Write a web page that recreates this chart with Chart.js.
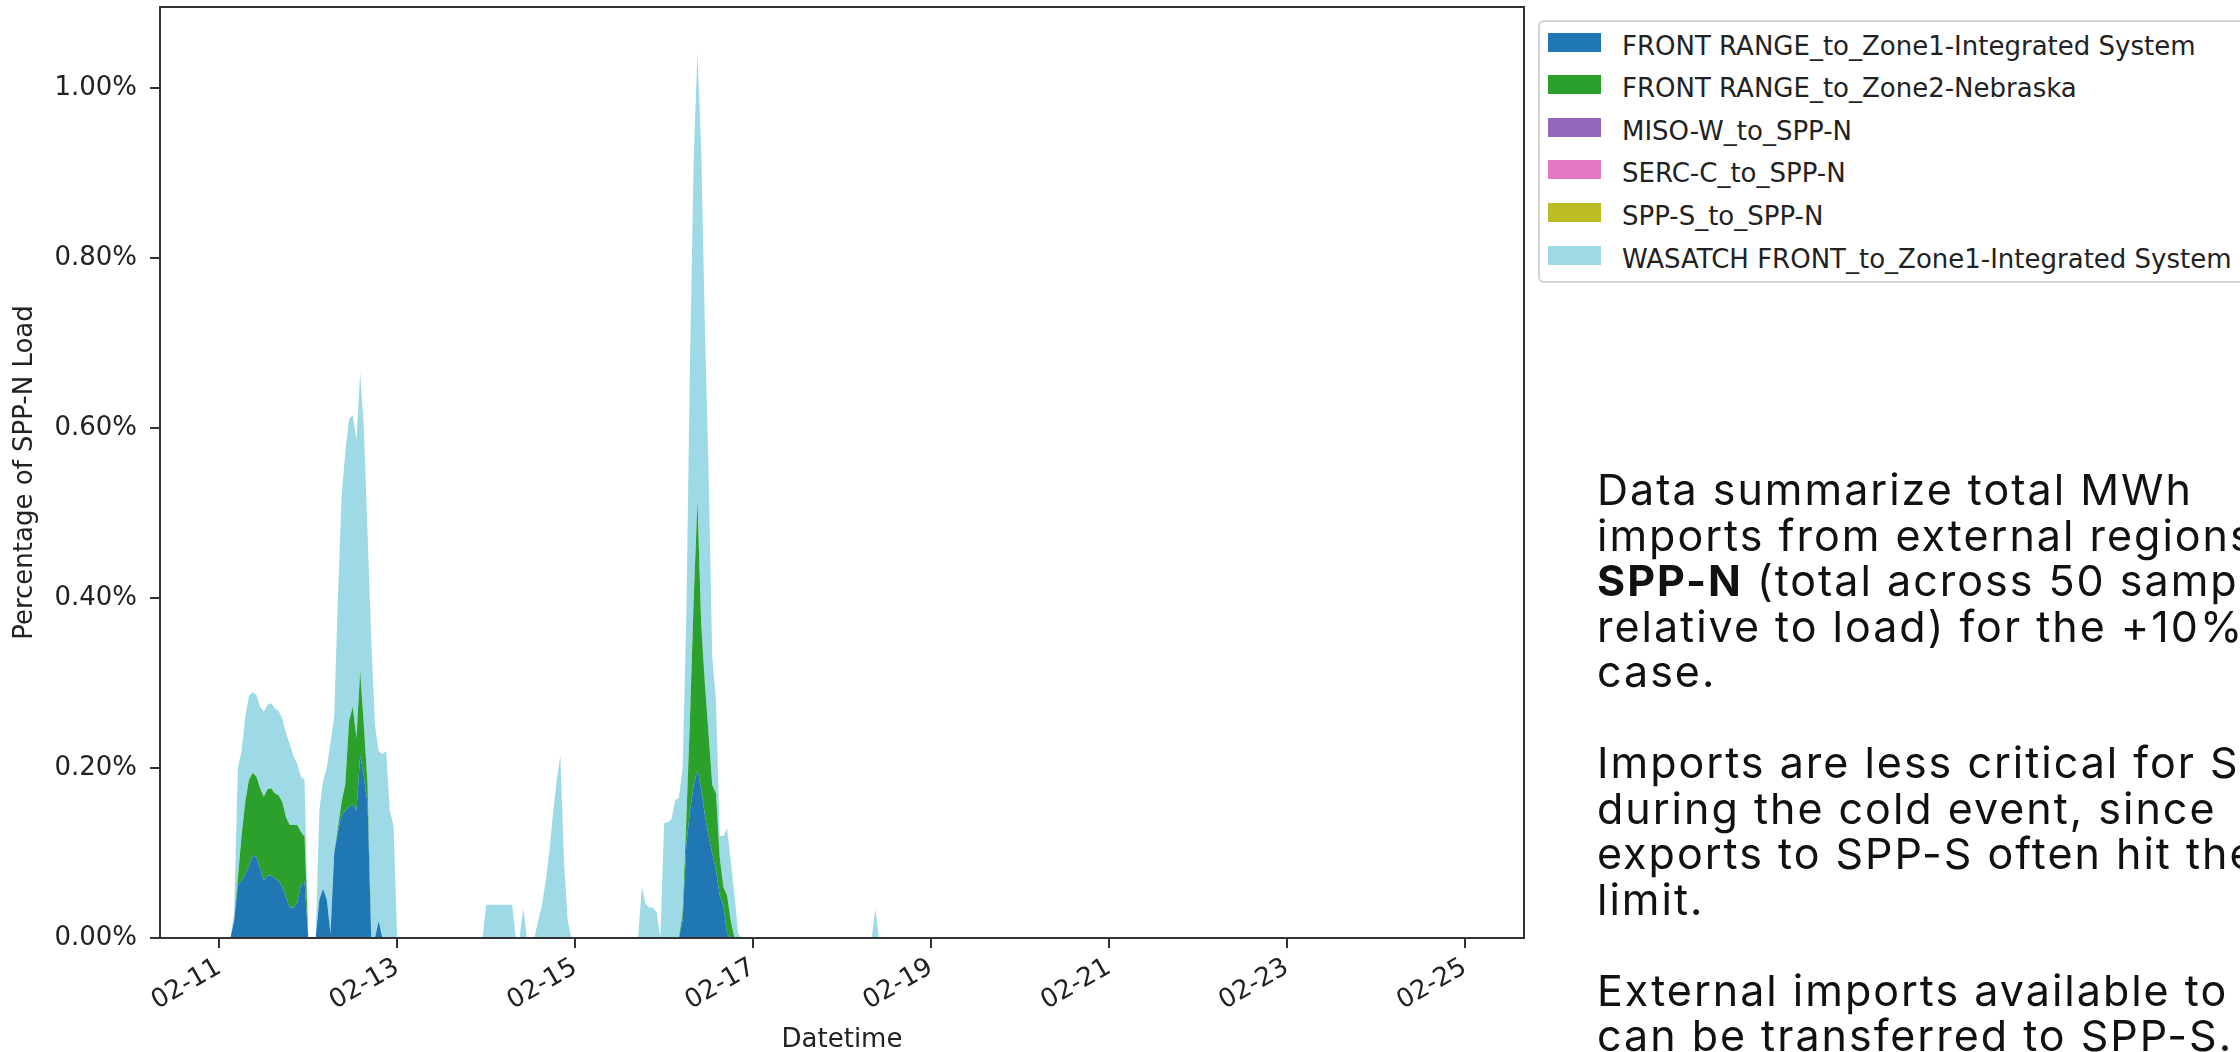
<!DOCTYPE html>
<html>
<head>
<meta charset="utf-8">
<script src="https://cdn.jsdelivr.net/npm/chart.js@4.4.1/dist/chart.umd.min.js"></script>
<style>
  html, body { margin: 0; padding: 0; background: #ffffff; overflow: hidden; }
  #wrap { position: relative; width: 2240px; height: 1052px; overflow: hidden; background: #fff; }
  #chartBox { position: absolute; left: 0; top: 0; width: 2240px; height: 1052px; }
  #legend { position: absolute; left: 1538px; top: 20px; width: 760px; height: 263px;
            border: 2px solid #d4d4d4; border-radius: 6px; box-sizing: border-box; background: #fff; }
  .row { position: absolute; left: 0; width: 740px; height: 42px; }
  .sw { position: absolute; left: 8px; top: 10.7px; width: 53px; height: 19px; }
  .lt { position: absolute; left: 82px; top: 8.5px; line-height: 30px; white-space: nowrap;
        font-family: 'DejaVu Sans', sans-serif; font-size: 26px; color: #222; }
  #note { position: absolute; left: 1597px; top: 467px; font-family: Inter, 'Open Sans', sans-serif;
          font-size: 43px; line-height: 45.5px; letter-spacing: 2px; color: #111; white-space: nowrap; }
  #note b { font-weight: 700; }
</style>
</head>
<body>
<div id="wrap">
  <div id="chartBox"><canvas id="c"></canvas></div>
  <div id="legend"></div>
  <div id="note">Data summarize total MWh<br>imports from external regions<br><b>SPP-N</b> (total across 50 samples<br>relative to load) for the +10%<br>case.<br><br>Imports are less critical for SPP-N<br>during the cold event, since<br>exports to SPP-S often hit the<br>limit.<br><br>External imports available to<br>can be transferred to SPP-S.</div>
</div>
<script>
// ---------- DATA (hourly samples) ----------
const times = [
  "02-10 08:00",
  "02-11 03:00","02-11 04:00","02-11 05:00","02-11 06:00","02-11 07:00","02-11 08:00","02-11 09:00","02-11 10:00",
  "02-11 11:00","02-11 12:00","02-11 13:00","02-11 14:00","02-11 15:00","02-11 16:00","02-11 17:00","02-11 18:00",
  "02-11 19:00","02-11 20:00","02-11 21:00","02-11 22:00","02-11 23:00","02-12 00:00",
  "02-12 02:00","02-12 03:00","02-12 04:00","02-12 05:00","02-12 06:00","02-12 07:00","02-12 08:00","02-12 09:00",
  "02-12 10:00","02-12 11:00","02-12 12:00","02-12 13:00","02-12 14:00","02-12 15:00","02-12 16:00","02-12 17:00",
  "02-12 18:00","02-12 19:00","02-12 20:00","02-12 21:00","02-12 22:00","02-12 23:00","02-13 00:00",
  "02-13 23:00","02-14 00:00","02-14 01:00","02-14 02:00","02-14 03:00","02-14 04:00","02-14 05:00","02-14 06:00",
  "02-14 07:00","02-14 08:00","02-14 09:00","02-14 10:00","02-14 11:00","02-14 12:00","02-14 13:00","02-14 14:00",
  "02-14 15:00","02-14 16:00","02-14 17:00","02-14 18:00","02-14 19:00","02-14 20:00","02-14 21:00","02-14 22:00","02-14 23:00",
  "02-15 17:00","02-15 18:00","02-15 19:00","02-15 20:00","02-15 21:00","02-15 22:00","02-15 23:00",
  "02-16 00:00","02-16 01:00","02-16 02:00","02-16 03:00","02-16 04:00","02-16 05:00","02-16 06:00","02-16 07:00",
  "02-16 08:00","02-16 09:00","02-16 10:00","02-16 11:00","02-16 12:00","02-16 13:00","02-16 14:00","02-16 15:00",
  "02-16 16:00","02-16 17:00","02-16 18:00","02-16 19:00","02-16 20:00","02-16 21:00",
  "02-18 08:00","02-18 09:00","02-18 10:00",
  "02-25 16:00"
];

// percent of SPP-N load, per series (stacked in this order)
const frontRangeZone1 = [
  0,
  0,0.02,0.062,0.067,0.075,0.085,0.097,0.095,0.082,0.068,0.073,0.074,0.07,0.067,0.06,0.048,0.036,0.036,0.041,0.062,0.066,0,
  0,0.045,0.058,0.045,0.005,0.1,0.125,0.145,0.15,0.154,0.157,0.15,0.215,0.19,0.157,0,0,0.02,0,0,0,0,0,
  0,0,0,0,0,0,0,0,0,0,0,0,0,0,0,0,0,0,0,0,0,0,0,0,0,
  0,0,0,0,0,0,0,0,0,0,0,0,0.02,0.11,0.15,0.18,0.198,0.175,0.145,0.12,0.1,0.08,0.05,0.038,0.005,0,0,0,0,
  0,0,0,
  0
];
const frontRangeZone2 = [
  0,
  0,0,0.008,0.053,0.085,0.101,0.097,0.095,0.094,0.098,0.102,0.102,0.1,0.101,0.1,0.094,0.097,0.097,0.092,0.063,0.053,0,
  0,0,0,0,0,0,0.005,0.015,0.031,0.101,0.115,0.085,0.1,0.06,0.024,0,0,0,0,0,0,0,0,
  0,0,0,0,0,0,0,0,0,0,0,0,0,0,0,0,0,0,0,0,0,0,0,0,0,
  0,0,0,0,0,0,0,0,0,0,0,0,0.01,0.03,0.11,0.22,0.317,0.195,0.155,0.12,0.08,0.09,0.045,0.022,0.045,0.02,0,0,0,
  0,0,0,
  0
];
const misoW = [
  0,
  0,0,0,0,0,0,0,0,0,0,0,0,0,0,0,0,0,0,0,0,0,0,
  0,0,0,0,0,0,0,0,0,0,0,0,0,0,0,0,0,0,0,0,0,0,0,
  0,0,0,0,0,0,0,0,0,0,0,0,0,0,0,0,0,0,0,0,0,0,0,0,0,
  0,0,0,0,0,0,0,0,0,0,0,0,0,0,0,0,0,0,0,0,0,0,0,0,0,0,0,0,0,
  0,0,0,
  0
];
const sercC = [
  0,
  0,0,0,0,0,0,0,0,0,0,0,0,0,0,0,0,0,0,0,0,0,0,
  0,0,0,0,0,0,0,0,0,0,0,0,0,0,0,0,0,0,0,0,0,0,0,
  0,0,0,0,0,0,0,0,0,0,0,0,0,0,0,0,0,0,0,0,0,0,0,0,0,
  0,0,0,0,0,0,0,0,0,0,0,0,0,0,0,0,0,0,0,0,0,0,0,0,0,0,0,0,0,
  0,0,0,
  0
];
const sppS = [
  0,
  0,0,0,0,0,0,0,0,0,0,0,0,0,0,0,0,0,0,0,0,0,0,
  0,0,0,0,0,0,0,0,0,0,0,0,0,0,0,0,0,0,0,0,0,0,0,
  0,0,0,0,0,0,0,0,0,0,0,0,0,0,0,0,0,0,0,0,0,0,0,0,0,
  0,0,0,0,0,0,0,0,0,0,0,0,0,0,0,0,0,0,0,0,0,0,0,0,0,0,0,0,0,
  0,0,0,
  0
];
const wasatchZone1 = [
  0,
  0,0.01,0.13,0.1,0.1,0.099,0.095,0.096,0.096,0.1,0.099,0.1,0.1,0.099,0.098,0.099,0.095,0.081,0.072,0.065,0.067,0,
  0,0.105,0.127,0.155,0.225,0.16,0.27,0.36,0.391,0.355,0.343,0.35,0.35,0.35,0.295,0.35,0.25,0.2,0.216,0.22,0.15,0.132,0,
  0,0.039,0.039,0.039,0.039,0.039,0.039,0.039,0.039,0,0,0.035,0,0,0,0.02,0.038,0.065,0.1,0.145,0.185,0.215,0.09,0.02,0,
  0,0.06,0.04,0.036,0.036,0.03,0,0.135,0.136,0.14,0.162,0.165,0.17,0.24,0.42,0.52,0.526,0.56,0.42,0.31,0.15,0.11,0.025,0.06,0.079,0.07,0.05,0.005,0,
  0,0.034,0,
  0
];

const seriesLabels = [
  "FRONT RANGE_to_Zone1-Integrated System",
  "FRONT RANGE_to_Zone2-Nebraska",
  "MISO-W_to_SPP-N",
  "SERC-C_to_SPP-N",
  "SPP-S_to_SPP-N",
  "WASATCH FRONT_to_Zone1-Integrated System"
];
const seriesValues = [frontRangeZone1, frontRangeZone2, misoW, sercC, sppS, wasatchZone1];
const seriesColors = ["#1f77b4", "#2ca02c", "#9467bd", "#e377c2", "#bcbd22", "#9edae5"];

const xStart = "02-10 08:00", xEnd = "02-25 16:00";
const xTickDays = [11, 13, 15, 17, 19, 21, 23, 25];
const xTickLabels = ["02-11","02-13","02-15","02-17","02-19","02-21","02-23","02-25"];
const yTickValues = [0, 0.2, 0.4, 0.6, 0.8, 1.0];
const yTickLabels = ["0.00%","0.20%","0.40%","0.60%","0.80%","1.00%"];
const yMax = 1.095;

// ---------- build ----------
function toDay(s) {
  const [md, hm] = s.split(" ");
  const d = parseInt(md.split("-")[1], 10);
  const h = parseInt(hm.split(":")[0], 10);
  return d + h / 24;
}
const xs = times.map(toDay);

const FONT = "'DejaVu Sans', sans-serif";
const INK = "#222";

const datasets = seriesLabels.map((lab, i) => ({
  label: lab,
  data: xs.map((x, j) => ({ x: x, y: seriesValues[i][j] })),
  backgroundColor: seriesColors[i],
  borderColor: seriesColors[i],
  borderWidth: 0,
  pointRadius: 0,
  pointHoverRadius: 0,
  tension: 0,
  fill: i === 0 ? "origin" : "-1"
}));

const framePlugin = {
  id: "frame",
  afterDraw(chart) {
    const { ctx, chartArea: a } = chart;
    ctx.save();
    ctx.strokeStyle = "#333";
    ctx.lineWidth = 2;
    ctx.strokeRect(a.left, a.top, a.right - a.left, a.bottom - a.top);
    ctx.restore();
  }
};

new Chart(document.getElementById("c"), {
  type: "line",
  data: { datasets },
  plugins: [framePlugin],
  options: {
    responsive: true,
    maintainAspectRatio: false,
    animation: false,
    devicePixelRatio: 1,
    layout: { padding: { left: 0, top: 7, right: 716, bottom: 0 } },
    plugins: { legend: { display: false }, tooltip: { enabled: false } },
    scales: {
      x: {
        type: "linear",
        min: toDay(xStart),
        max: toDay(xEnd),
        afterBuildTicks: s => { s.ticks = xTickDays.map(v => ({ value: v })); },
        afterFit: s => { s.height = 114; s.paddingLeft = 0; s.paddingRight = 0; },
        ticks: {
          autoSkip: false, maxRotation: 30, minRotation: 30, padding: 4,
          color: INK, font: { family: FONT, size: 26 },
          callback: v => { const k = xTickDays.indexOf(v); return k >= 0 ? xTickLabels[k] : ""; }
        },
        grid: { drawOnChartArea: false, drawTicks: true, tickLength: 10, color: "#333", lineWidth: 2 },
        border: { display: false },
        title: { display: true, text: "Datetime", color: INK,
                 font: { family: FONT, size: 26, lineHeight: 0.9 }, padding: { top: 0, bottom: 0 } }
      },
      y: {
        stacked: true,
        min: 0,
        max: yMax,
        afterBuildTicks: s => { s.ticks = yTickValues.map(v => ({ value: v })); },
        afterFit: s => { s.width = 160; s.paddingTop = 0; s.paddingBottom = 0; },
        ticks: {
          padding: 13, color: INK, font: { family: FONT, size: 26 },
          callback: v => { const k = yTickValues.findIndex(t => Math.abs(t - v) < 1e-9); return k >= 0 ? yTickLabels[k] : ""; }
        },
        grid: { drawOnChartArea: false, drawTicks: true, tickLength: 10, color: "#333", lineWidth: 2 },
        border: { display: false },
        title: { display: true, text: "Percentage of SPP-N Load", color: INK,
                 font: { family: FONT, size: 26, lineHeight: 1.2 }, padding: { top: 10, bottom: 0 } }
      }
    }
  }
});

// ---------- legend (HTML, from the same series) ----------
const legendEl = document.getElementById("legend");
seriesLabels.forEach((lab, i) => {
  const row = document.createElement("div");
  row.className = "row";
  row.style.top = (i * 42.6) + "px";
  const sw = document.createElement("div");
  sw.className = "sw";
  sw.style.background = seriesColors[i];
  const tx = document.createElement("div");
  tx.className = "lt";
  tx.textContent = lab;
  row.appendChild(sw);
  row.appendChild(tx);
  legendEl.appendChild(row);
});
</script>
</body>
</html>
